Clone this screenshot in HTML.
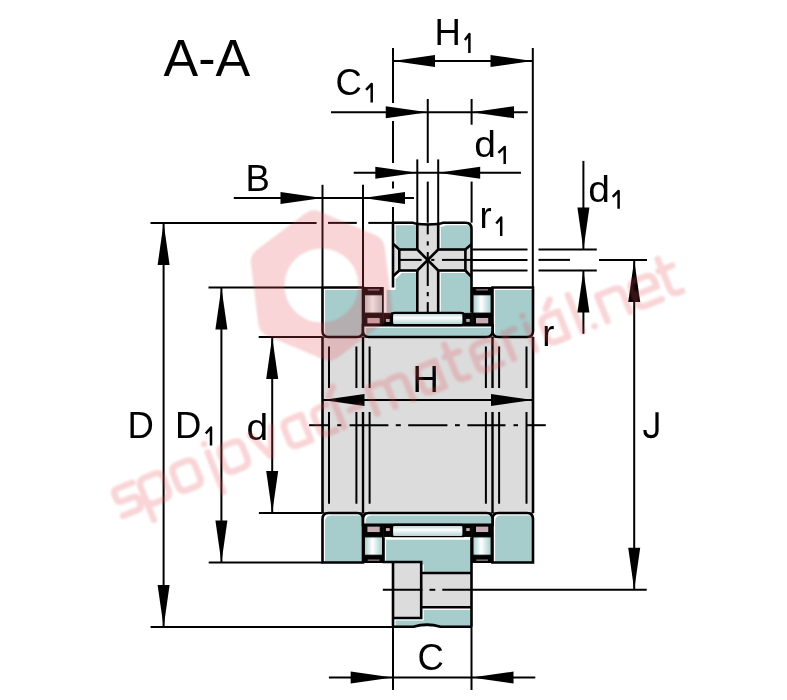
<!DOCTYPE html>
<html><head><meta charset="utf-8"><style>html,body{margin:0;padding:0;background:#fff;width:787px;height:700px;overflow:hidden}svg{display:block;filter:blur(0.3px)}</style></head>
<body><svg width="787" height="700" viewBox="0 0 787 700">
<defs>
<filter id="wmb" x="-10%" y="-10%" width="120%" height="120%"><feGaussianBlur stdDeviation="0.8"/></filter>
<clipPath id="c1"><path d="M322.5,287.5 L363,287.5 L363,331 Q363,337 357,337 L328.5,337 Q322.5,337 322.5,331 L322.5,287.5 Z"/></clipPath>
<clipPath id="c2"><path d="M492.5,287.5 L533,287.5 L533,331 Q533,337 527,337 L498.5,337 Q492.5,337 492.5,331 L492.5,287.5 Z"/></clipPath>
<clipPath id="c3"><path d="M328.5,513 L357,513 Q363,513 363,519 L363,562.5 L322.5,562.5 L322.5,519 Q322.5,513 328.5,513 Z"/></clipPath>
<clipPath id="c4"><path d="M498.5,513 L527,513 Q533,513 533,519 L533,562.5 L492.5,562.5 L492.5,519 Q492.5,513 498.5,513 Z"/></clipPath>
<clipPath id="c5"><path d="M363,325.2 L492.5,325.2 L492.5,331 Q492.5,337 486.5,337 L369,337 Q363,337 363,331 L363,325.2 Z"/></clipPath>
<clipPath id="c6"><path d="M369,513 L486.5,513 Q492.5,513 492.5,519 L492.5,524.8 L363,524.8 L363,519 Q363,513 369,513 Z"/></clipPath>
<clipPath id="c7"><path d="M393,222.7 L412.4,222.7 Q417.3,224.5 417.3,224.5 L417.3,249.5 L399.3,249.5 L393,243.6 Z"/></clipPath>
<clipPath id="c8"><path d="M438.2,224.5 Q441,224.5 443.5,222.7 L465.5,222.7 Q471.5,222.7 471.5,228.7 L471.5,244.2 L465.4,249.5 L438.2,249.5 Z"/></clipPath>
<clipPath id="c9"><path d="M393,276.3 L399.3,270.5 L417.3,270.5 L417.3,312.8 L384,312.8 L384,287.5 L393,287.5 Z"/></clipPath>
<clipPath id="c10"><path d="M438.2,270.5 L465.4,270.5 L471.5,276.8 L471.5,312.8 L438.2,312.8 Z"/></clipPath>
<clipPath id="c11"><path d="M383.5,537.2 L471.5,537.2 L471.5,573 L421.2,573 L421.2,562 L383.5,562 Z"/></clipPath>
<clipPath id="c12"><path d="M421.2,607.3 L471.5,607.3 L471.5,626.8 L393,626.8 L393,618 L421.2,618 Z"/></clipPath>
<linearGradient id="gv" x1="0" y1="0" x2="1" y2="0">
<stop offset="0" stop-color="#a6cccc"/><stop offset="0.45" stop-color="#ffffff"/><stop offset="1" stop-color="#a6cccc"/>
</linearGradient>
<linearGradient id="gh" x1="0" y1="0" x2="0" y2="1">
<stop offset="0" stop-color="#a6cccc"/><stop offset="0.4" stop-color="#ffffff"/><stop offset="1" stop-color="#a6cccc"/>
</linearGradient>
<linearGradient id="gh2" x1="0" y1="0" x2="0" y2="1">
<stop offset="0" stop-color="#a6cccc"/><stop offset="0.4" stop-color="#ffffff"/><stop offset="1" stop-color="#a6cccc"/>
</linearGradient>
</defs>
<rect width="787" height="700" fill="#fff"/>
<g stroke="#000" fill="#000">
<rect x="322.5" y="337" width="210.5" height="176" fill="#dcdcdc" />
<line x1="322.5" y1="337" x2="322.5" y2="513" stroke-width="2.6"/>
<line x1="533" y1="337" x2="533" y2="513" stroke-width="2.6"/>
<line x1="363" y1="337" x2="363" y2="388" stroke-width="2.4"/>
<line x1="363" y1="412" x2="363" y2="513" stroke-width="2.4"/>
<line x1="492.5" y1="337" x2="492.5" y2="388" stroke-width="2.4"/>
<line x1="492.5" y1="412" x2="492.5" y2="513" stroke-width="2.4"/>
<line x1="329" y1="346.5" x2="329" y2="388" stroke-width="2.0"/>
<line x1="329" y1="412" x2="329" y2="503.7" stroke-width="2.0"/>
<line x1="356.4" y1="346.5" x2="356.4" y2="388" stroke-width="2.0"/>
<line x1="356.4" y1="412" x2="356.4" y2="503.7" stroke-width="2.0"/>
<line x1="369.6" y1="346.5" x2="369.6" y2="388" stroke-width="2.0"/>
<line x1="369.6" y1="412" x2="369.6" y2="503.7" stroke-width="2.0"/>
<line x1="485.9" y1="346.5" x2="485.9" y2="388" stroke-width="2.0"/>
<line x1="485.9" y1="412" x2="485.9" y2="503.7" stroke-width="2.0"/>
<line x1="499.1" y1="346.5" x2="499.1" y2="388" stroke-width="2.0"/>
<line x1="499.1" y1="412" x2="499.1" y2="503.7" stroke-width="2.0"/>
<line x1="526.5" y1="346.5" x2="526.5" y2="388" stroke-width="2.0"/>
<line x1="526.5" y1="412" x2="526.5" y2="503.7" stroke-width="2.0"/>
<path d="M322.5,287.5 L363,287.5 L363,331 Q363,337 357,337 L328.5,337 Q322.5,337 322.5,331 L322.5,287.5 Z" fill="#fff" stroke="none"/>
<g clip-path="url(#c1)"><path d="M322.5,287.5 L363,287.5 L363,331 Q363,337 357,337 L328.5,337 Q322.5,337 322.5,331 L322.5,287.5 Z" fill="#a6cccc" stroke="none" transform="translate(2.6,2.6)"/></g>
<path d="M322.5,287.5 L363,287.5 L363,331 Q363,337 357,337 L328.5,337 Q322.5,337 322.5,331 L322.5,287.5 Z" fill="none" stroke="#000" stroke-width="2.6" />
<path d="M492.5,287.5 L533,287.5 L533,331 Q533,337 527,337 L498.5,337 Q492.5,337 492.5,331 L492.5,287.5 Z" fill="#fff" stroke="none"/>
<g clip-path="url(#c2)"><path d="M492.5,287.5 L533,287.5 L533,331 Q533,337 527,337 L498.5,337 Q492.5,337 492.5,331 L492.5,287.5 Z" fill="#a6cccc" stroke="none" transform="translate(2.6,2.6)"/></g>
<path d="M492.5,287.5 L533,287.5 L533,331 Q533,337 527,337 L498.5,337 Q492.5,337 492.5,331 L492.5,287.5 Z" fill="none" stroke="#000" stroke-width="2.6" />
<path d="M328.5,513 L357,513 Q363,513 363,519 L363,562.5 L322.5,562.5 L322.5,519 Q322.5,513 328.5,513 Z" fill="#fff" stroke="none"/>
<g clip-path="url(#c3)"><path d="M328.5,513 L357,513 Q363,513 363,519 L363,562.5 L322.5,562.5 L322.5,519 Q322.5,513 328.5,513 Z" fill="#a6cccc" stroke="none" transform="translate(2.6,2.6)"/></g>
<path d="M328.5,513 L357,513 Q363,513 363,519 L363,562.5 L322.5,562.5 L322.5,519 Q322.5,513 328.5,513 Z" fill="none" stroke="#000" stroke-width="2.6" />
<path d="M498.5,513 L527,513 Q533,513 533,519 L533,562.5 L492.5,562.5 L492.5,519 Q492.5,513 498.5,513 Z" fill="#fff" stroke="none"/>
<g clip-path="url(#c4)"><path d="M498.5,513 L527,513 Q533,513 533,519 L533,562.5 L492.5,562.5 L492.5,519 Q492.5,513 498.5,513 Z" fill="#a6cccc" stroke="none" transform="translate(2.6,2.6)"/></g>
<path d="M498.5,513 L527,513 Q533,513 533,519 L533,562.5 L492.5,562.5 L492.5,519 Q492.5,513 498.5,513 Z" fill="none" stroke="#000" stroke-width="2.6" />
<path d="M363,325.2 L492.5,325.2 L492.5,331 Q492.5,337 486.5,337 L369,337 Q363,337 363,331 L363,325.2 Z" fill="#fff" stroke="none"/>
<g clip-path="url(#c5)"><path d="M363,325.2 L492.5,325.2 L492.5,331 Q492.5,337 486.5,337 L369,337 Q363,337 363,331 L363,325.2 Z" fill="#a6cccc" stroke="none" transform="translate(2.6,2.6)"/></g>
<path d="M363,325.2 L492.5,325.2 L492.5,331 Q492.5,337 486.5,337 L369,337 Q363,337 363,331 L363,325.2 Z" fill="none" stroke="#000" stroke-width="2.6" />
<path d="M369,513 L486.5,513 Q492.5,513 492.5,519 L492.5,524.8 L363,524.8 L363,519 Q363,513 369,513 Z" fill="#fff" stroke="none"/>
<g clip-path="url(#c6)"><path d="M369,513 L486.5,513 Q492.5,513 492.5,519 L492.5,524.8 L363,524.8 L363,519 Q363,513 369,513 Z" fill="#a6cccc" stroke="none" transform="translate(2.6,2.6)"/></g>
<path d="M369,513 L486.5,513 Q492.5,513 492.5,519 L492.5,524.8 L363,524.8 L363,519 Q363,513 369,513 Z" fill="none" stroke="#000" stroke-width="2.6" />
<path d="M393,222.7 L412.4,222.7 Q417.3,224.5 417.3,224.5 L417.3,249.5 L399.3,249.5 L393,243.6 Z" fill="#fff" stroke="none"/>
<g clip-path="url(#c7)"><path d="M393,222.7 L412.4,222.7 Q417.3,224.5 417.3,224.5 L417.3,249.5 L399.3,249.5 L393,243.6 Z" fill="#a6cccc" stroke="none" transform="translate(2.6,2.6)"/></g>
<path d="M438.2,224.5 Q441,224.5 443.5,222.7 L465.5,222.7 Q471.5,222.7 471.5,228.7 L471.5,244.2 L465.4,249.5 L438.2,249.5 Z" fill="#fff" stroke="none"/>
<g clip-path="url(#c8)"><path d="M438.2,224.5 Q441,224.5 443.5,222.7 L465.5,222.7 Q471.5,222.7 471.5,228.7 L471.5,244.2 L465.4,249.5 L438.2,249.5 Z" fill="#a6cccc" stroke="none" transform="translate(2.6,2.6)"/></g>
<path d="M393,276.3 L399.3,270.5 L417.3,270.5 L417.3,312.8 L384,312.8 L384,287.5 L393,287.5 Z" fill="#fff" stroke="none"/>
<g clip-path="url(#c9)"><path d="M393,276.3 L399.3,270.5 L417.3,270.5 L417.3,312.8 L384,312.8 L384,287.5 L393,287.5 Z" fill="#a6cccc" stroke="none" transform="translate(2.6,2.6)"/></g>
<path d="M438.2,270.5 L465.4,270.5 L471.5,276.8 L471.5,312.8 L438.2,312.8 Z" fill="#fff" stroke="none"/>
<g clip-path="url(#c10)"><path d="M438.2,270.5 L465.4,270.5 L471.5,276.8 L471.5,312.8 L438.2,312.8 Z" fill="#a6cccc" stroke="none" transform="translate(2.6,2.6)"/></g>
<rect x="417.3" y="224.2" width="20.9" height="88.6" fill="#dcdcdc" />
<path d="M393,243.6 L399.3,249.5 L465.4,249.5 L471.5,244.2 L471.5,276.8 L465.4,270.5 L399.3,270.5 L393,276.3 Z" fill="#dcdcdc" stroke="none" stroke-width="2.6" />
<path d="M393,287.5 L393,222.7 L412.4,222.7 Q416,224.5 428,224.5 Q440,224.5 443.5,222.7 L465.5,222.7 Q471.5,222.7 471.5,228.7 L471.5,312.8" fill="none" stroke="#000" stroke-width="2.6" />
<line x1="417.3" y1="224.5" x2="417.3" y2="249.5" stroke-width="2.6"/>
<line x1="417.3" y1="270.5" x2="417.3" y2="312.8" stroke-width="2.6"/>
<line x1="438.2" y1="224.5" x2="438.2" y2="249.5" stroke-width="2.6"/>
<line x1="438.2" y1="270.5" x2="438.2" y2="312.8" stroke-width="2.6"/>
<line x1="399.3" y1="249.5" x2="417.3" y2="249.5" stroke-width="2.6"/>
<line x1="438.2" y1="249.5" x2="465.4" y2="249.5" stroke-width="2.6"/>
<line x1="399.3" y1="270.5" x2="417.3" y2="270.5" stroke-width="2.6"/>
<line x1="438.2" y1="270.5" x2="465.4" y2="270.5" stroke-width="2.6"/>
<line x1="399.3" y1="249.5" x2="399.3" y2="270.5" stroke-width="2.6"/>
<line x1="465.4" y1="249.5" x2="465.4" y2="270.5" stroke-width="2.6"/>
<path d="M393,243.6 L399.3,249.5 M393,276.3 L399.3,270.5 M471.5,244.2 L465.4,249.5 M471.5,276.8 L465.4,270.5" fill="none" stroke="#000" stroke-width="2.6" />
<path d="M417.3,249.5 L438.2,270.5 M438.2,249.5 L417.3,270.5" fill="none" stroke="#000" stroke-width="2.6" />
<line x1="427.75" y1="224.5" x2="427.75" y2="234.4" stroke-width="2.0"/>
<line x1="427.75" y1="241.3" x2="427.75" y2="245.5" stroke-width="2.0"/>
<line x1="427.75" y1="252" x2="427.75" y2="286" stroke-width="2.0"/>
<line x1="427.75" y1="292" x2="427.75" y2="296.2" stroke-width="2.0"/>
<line x1="427.75" y1="302.1" x2="427.75" y2="322.5" stroke-width="2.0"/>
<line x1="399.3" y1="259.9" x2="421.6" y2="259.9" stroke-width="2.0"/>
<line x1="431.2" y1="259.9" x2="434.4" y2="259.9" stroke-width="2.0"/>
<line x1="442" y1="259.9" x2="471.5" y2="259.9" stroke-width="2.0"/>
<rect x="391.5" y="312.8" width="72" height="12.4" fill="url(#gh)"/>
<rect x="391.5" y="524.8" width="72" height="12.4" fill="url(#gh2)"/>
<rect x="392" y="312.8" width="71.5" height="12.4" rx="2.5" fill="none" stroke="#000" stroke-width="2.2"/>
<rect x="392" y="524.8" width="71.5" height="12.4" rx="2.5" fill="none" stroke="#000" stroke-width="2.2"/>
<rect x="472.3" y="287.5" width="19.5" height="37.7" fill="#000" />
<rect x="473" y="294.8" width="18.1" height="18.3" fill="url(#gv)"/>
<rect x="475.8" y="288.9" width="12.8" height="2" fill="#c4aeb4" />
<rect x="475.5" y="317.4" width="13.3" height="6.5" fill="#c4aeb4" />
<rect x="473.8" y="316.5" width="0.8" height="8.7" fill="#fff" opacity="0.6"/>
<rect x="489.5" y="316.5" width="0.8" height="8.7" fill="#fff" opacity="0.6"/>
<rect x="363.7" y="287.5" width="19.5" height="37.7" fill="#000" />
<rect x="364.4" y="294.8" width="18.1" height="18.3" fill="url(#gv)"/>
<rect x="367.2" y="288.9" width="12.8" height="2" fill="#c4aeb4" />
<rect x="366.9" y="317.4" width="13.3" height="6.5" fill="#c4aeb4" />
<rect x="365.2" y="316.5" width="0.8" height="8.7" fill="#fff" opacity="0.6"/>
<rect x="380.9" y="316.5" width="0.8" height="8.7" fill="#fff" opacity="0.6"/>
<rect x="464.2" y="313.3" width="7.6" height="11.9" fill="#000" />
<rect x="465.8" y="318.4" width="4.4" height="4" fill="#c4aeb4" />
<rect x="383.8" y="313.3" width="8" height="11.9" fill="#000" />
<rect x="385.4" y="318.4" width="4.8" height="4" fill="#c4aeb4" />
<rect x="472.3" y="524.8" width="19.5" height="37.7" fill="#000" />
<rect x="473" y="536.9" width="18.1" height="18.3" fill="url(#gv)"/>
<rect x="475.8" y="559.1" width="12.8" height="2" fill="#c4aeb4" />
<rect x="475.5" y="526.1" width="13.3" height="6.5" fill="#c4aeb4" />
<rect x="473.8" y="524.8" width="0.8" height="8.7" fill="#fff" opacity="0.6"/>
<rect x="489.5" y="524.8" width="0.8" height="8.7" fill="#fff" opacity="0.6"/>
<rect x="363.7" y="524.8" width="19.5" height="37.7" fill="#000" />
<rect x="364.4" y="536.9" width="18.1" height="18.3" fill="url(#gv)"/>
<rect x="367.2" y="559.1" width="12.8" height="2" fill="#c4aeb4" />
<rect x="366.9" y="526.1" width="13.3" height="6.5" fill="#c4aeb4" />
<rect x="365.2" y="524.8" width="0.8" height="8.7" fill="#fff" opacity="0.6"/>
<rect x="380.9" y="524.8" width="0.8" height="8.7" fill="#fff" opacity="0.6"/>
<rect x="464.2" y="524.8" width="7.6" height="11.9" fill="#000" />
<rect x="465.8" y="527.6" width="4.4" height="4" fill="#c4aeb4" />
<rect x="383.8" y="524.8" width="8" height="11.9" fill="#000" />
<rect x="385.4" y="527.6" width="4.8" height="4" fill="#c4aeb4" />
<path d="M383.5,537.2 L471.5,537.2 L471.5,573 L421.2,573 L421.2,562 L383.5,562 Z" fill="#fff" stroke="none"/>
<g clip-path="url(#c11)"><path d="M383.5,537.2 L471.5,537.2 L471.5,573 L421.2,573 L421.2,562 L383.5,562 Z" fill="#a6cccc" stroke="none" transform="translate(2.6,2.6)"/></g>
<path d="M421.2,607.3 L471.5,607.3 L471.5,626.8 L393,626.8 L393,618 L421.2,618 Z" fill="#fff" stroke="none"/>
<g clip-path="url(#c12)"><path d="M421.2,607.3 L471.5,607.3 L471.5,626.8 L393,626.8 L393,618 L421.2,618 Z" fill="#a6cccc" stroke="none" transform="translate(2.6,2.6)"/></g>
<rect x="393" y="562" width="28.2" height="56" fill="#dcdcdc" />
<rect x="421.2" y="573" width="50.3" height="34.3" fill="#dcdcdc" />
<path d="M383.5,537.2 L383.5,562 L421.2,562 L421.2,618 L393,618" fill="none" stroke="#000" stroke-width="2.6" />
<path d="M421.2,573 L471.5,573 M421.2,607.3 L471.5,607.3" fill="none" stroke="#000" stroke-width="2.6" />
<path d="M471.5,537.2 L471.5,626.8" fill="none" stroke="#000" stroke-width="2.6" />
<path d="M393,562 L393,626.8" fill="none" stroke="#000" stroke-width="2.6" />
<path d="M393,626.8 L413.4,626.8 Q427,622.5 440.4,626.8 L471.5,626.8" fill="none" stroke="#000" stroke-width="2.6" />
<line x1="393" y1="61" x2="532.5" y2="61" stroke-width="2.0"/>
<polygon stroke="none" points="393,61 435,55 435,67"/>
<polygon stroke="none" points="532.5,61 490.5,55 490.5,67"/>
<line x1="393" y1="48" x2="393" y2="103" stroke-width="2.0"/>
<line x1="393" y1="121" x2="393" y2="163" stroke-width="2.0"/>
<line x1="393" y1="181.6" x2="393" y2="188.6" stroke-width="2.0"/>
<line x1="393" y1="207" x2="393" y2="222.7" stroke-width="2.0"/>
<line x1="532.8" y1="48" x2="532.8" y2="287.5" stroke-width="2.0"/>
<line x1="331" y1="112.2" x2="527.7" y2="112.2" stroke-width="2.0"/>
<polygon stroke="none" points="427.75,112.2 385.75,106.2 385.75,118.2"/>
<polygon stroke="none" points="472,112.2 514,106.2 514,118.2"/>
<line x1="427.75" y1="99" x2="427.75" y2="163" stroke-width="2.0"/>
<line x1="427.75" y1="181.6" x2="427.75" y2="222.7" stroke-width="2.0"/>
<line x1="471.6" y1="99" x2="471.6" y2="124.7" stroke-width="2.0"/>
<line x1="471.6" y1="181.6" x2="471.6" y2="222.7" stroke-width="2.0"/>
<line x1="353.7" y1="172.7" x2="521" y2="172.7" stroke-width="2.0"/>
<polygon stroke="none" points="417.3,172.7 375.3,166.7 375.3,178.7"/>
<polygon stroke="none" points="438.2,172.7 480.2,166.7 480.2,178.7"/>
<line x1="417.3" y1="159.4" x2="417.3" y2="224.5" stroke-width="2.0"/>
<line x1="438.2" y1="159.4" x2="438.2" y2="224.5" stroke-width="2.0"/>
<line x1="233.8" y1="198" x2="414" y2="198" stroke-width="2.0"/>
<polygon stroke="none" points="322.5,198 280.5,192 280.5,204"/>
<polygon stroke="none" points="363,198 405,192 405,204"/>
<line x1="322.5" y1="184.8" x2="322.5" y2="287.5" stroke-width="2.0"/>
<line x1="363" y1="184.8" x2="363" y2="287.5" stroke-width="2.0"/>
<line x1="150.5" y1="222.9" x2="316.6" y2="222.9" stroke-width="2.0"/>
<line x1="328" y1="222.9" x2="356.8" y2="222.9" stroke-width="2.0"/>
<line x1="368.3" y1="222.9" x2="393" y2="222.9" stroke-width="2.0"/>
<line x1="150.6" y1="627" x2="393" y2="627" stroke-width="2.0"/>
<line x1="163.6" y1="222.9" x2="163.6" y2="627" stroke-width="2.0"/>
<polygon stroke="none" points="163.6,222.9 157.6,264.9 169.6,264.9"/>
<polygon stroke="none" points="163.6,627 157.6,585 169.6,585"/>
<line x1="208.5" y1="287.5" x2="322.5" y2="287.5" stroke-width="2.0"/>
<line x1="208.7" y1="562.5" x2="322.5" y2="562.5" stroke-width="2.0"/>
<line x1="221.4" y1="287.5" x2="221.4" y2="562.5" stroke-width="2.0"/>
<polygon stroke="none" points="221.4,287.5 215.4,329.5 227.4,329.5"/>
<polygon stroke="none" points="221.4,562.5 215.4,520.5 227.4,520.5"/>
<line x1="258.7" y1="337" x2="322.5" y2="337" stroke-width="2.0"/>
<line x1="258.9" y1="513" x2="322.5" y2="513" stroke-width="2.0"/>
<line x1="272.2" y1="337" x2="272.2" y2="513" stroke-width="2.0"/>
<polygon stroke="none" points="272.2,337 266.2,379 278.2,379"/>
<polygon stroke="none" points="272.2,513 266.2,471 278.2,471"/>
<line x1="599" y1="259.9" x2="647" y2="259.9" stroke-width="2.0"/>
<line x1="382.8" y1="589.8" x2="422.4" y2="589.8" stroke-width="2.0"/>
<line x1="429.5" y1="589.8" x2="435.3" y2="589.8" stroke-width="2.0"/>
<line x1="442.3" y1="589.8" x2="646.7" y2="589.8" stroke-width="2.0"/>
<line x1="634.2" y1="259.9" x2="634.2" y2="589.8" stroke-width="2.0"/>
<polygon stroke="none" points="634.2,259.9 628.2,301.9 640.2,301.9"/>
<polygon stroke="none" points="634.2,589.8 628.2,547.8 640.2,547.8"/>
<line x1="583.4" y1="160.9" x2="583.4" y2="249.5" stroke-width="2.0"/>
<polygon stroke="none" points="583.4,249.5 577.4,207.5 589.4,207.5"/>
<line x1="583.4" y1="270.5" x2="583.4" y2="333.8" stroke-width="2.0"/>
<polygon stroke="none" points="583.4,270.5 577.4,312.5 589.4,312.5"/>
<line x1="471.5" y1="249.5" x2="527.5" y2="249.5" stroke-width="2.0"/>
<line x1="538.5" y1="249.5" x2="596.8" y2="249.5" stroke-width="2.0"/>
<line x1="471.5" y1="270.5" x2="527.5" y2="270.5" stroke-width="2.0"/>
<line x1="538.5" y1="270.5" x2="596.8" y2="270.5" stroke-width="2.0"/>
<line x1="471.5" y1="259.9" x2="527.5" y2="259.9" stroke-width="2.0"/>
<line x1="538.5" y1="259.9" x2="570" y2="259.9" stroke-width="2.0"/>
<line x1="322.5" y1="400" x2="533" y2="400" stroke-width="2.0"/>
<polygon stroke="none" points="322.5,400 364.5,394 364.5,406"/>
<polygon stroke="none" points="533,400 491,394 491,406"/>
<line x1="309.1" y1="425.2" x2="329.7" y2="425.2" stroke-width="2.0"/>
<line x1="337.2" y1="425.2" x2="341.3" y2="425.2" stroke-width="2.0"/>
<line x1="349.6" y1="425.2" x2="388.4" y2="425.2" stroke-width="2.0"/>
<line x1="395.8" y1="425.2" x2="400.8" y2="425.2" stroke-width="2.0"/>
<line x1="408.2" y1="425.2" x2="447.4" y2="425.2" stroke-width="2.0"/>
<line x1="455" y1="425.2" x2="459.8" y2="425.2" stroke-width="2.0"/>
<line x1="467.4" y1="425.2" x2="505.5" y2="425.2" stroke-width="2.0"/>
<line x1="513.5" y1="425.2" x2="518" y2="425.2" stroke-width="2.0"/>
<line x1="526.5" y1="425.2" x2="545.8" y2="425.2" stroke-width="2.0"/>
<line x1="328.9" y1="677.6" x2="535.3" y2="677.6" stroke-width="2.0"/>
<polygon stroke="none" points="392.7,677.6 350.7,671.6 350.7,683.6"/>
<polygon stroke="none" points="471.5,677.6 513.5,671.6 513.5,683.6"/>
<line x1="393" y1="626.8" x2="393" y2="690" stroke-width="2.0"/>
<line x1="471.5" y1="626.8" x2="471.5" y2="690" stroke-width="2.0"/>
</g>
<g font-family="Liberation Sans, sans-serif" fill="#000" opacity="0.999">
<text x="163.5" y="75.5" font-size="52">A-A</text>
<text x="434.5" y="44.6" font-size="36.5">H</text>
<path d="M469.4,52.9 L469.4,34.1 L464.9,40.1" fill="none" stroke="#000" stroke-width="2.5" stroke-linecap="butt" stroke-linejoin="round"/>
<text x="335.5" y="94.6" font-size="36.5">C</text>
<path d="M371.7,102.5 L371.7,83.9 L366.1,89.9" fill="none" stroke="#000" stroke-width="2.5" stroke-linecap="butt" stroke-linejoin="round"/>
<text x="0" y="0" font-size="36.5" transform="translate(474.2,156.6) scale(1.07,1)">d</text>
<path d="M504.7,163.9 L504.7,146.9 L498.4,152.9" fill="none" stroke="#000" stroke-width="2.5" stroke-linecap="butt" stroke-linejoin="round"/>
<text x="245.5" y="191" font-size="36.5">B</text>
<text x="479.5" y="228" font-size="36.5">r</text>
<path d="M501.2,236.1 L501.2,217.5 L496.3,223.5" fill="none" stroke="#000" stroke-width="2.5" stroke-linecap="butt" stroke-linejoin="round"/>
<text x="0" y="0" font-size="36.5" transform="translate(588.2,202) scale(1.07,1)">d</text>
<path d="M618.6,208.7 L618.6,190.9 L612.7,196.9" fill="none" stroke="#000" stroke-width="2.5" stroke-linecap="butt" stroke-linejoin="round"/>
<text x="127.5" y="437.8" font-size="36.5">D</text>
<text x="175" y="437.8" font-size="36.5">D</text>
<path d="M211,445.5 L211,427.5 L205.8,433.5" fill="none" stroke="#000" stroke-width="2.5" stroke-linecap="butt" stroke-linejoin="round"/>
<text x="0" y="0" font-size="36.5" transform="translate(246.6,439.5) scale(1.07,1)">d</text>
<text x="412.6" y="392.4" font-size="36.5">H</text>
<text x="542.3" y="345.8" font-size="36.5">r</text>
<path d="M657,412.3 L657,430.5 C657,435.5 654.5,436.6 651,436.6 C647.2,436.6 644.9,434.8 644.9,430" fill="none" stroke="#000" stroke-width="3.2"/>
<text x="417.5" y="669.5" font-size="36.5">C</text>
</g>
<g fill="#e45058" opacity="0.24" font-family="Liberation Sans, sans-serif" filter="url(#wmb)">
<path fill-rule="evenodd" d="M314.13,225.45 L369.82,249.09 L377.19,309.14 L328.87,345.55 L273.18,321.91 L265.81,261.86 Z M373.5,285.5 A52,52 0 1,0 269.5,285.5 A52,52 0 1,0 373.5,285.5 Z" stroke="#e45058" stroke-width="30" stroke-linejoin="round"/>
<g transform="translate(116,520) rotate(-21.9)" fill="none" stroke="#e45058" stroke-width="6.4" stroke-linejoin="round" stroke-linecap="round"><path transform="translate(5,0)" d="M23.8,-28.6 L8.2,-28.6 Q3.2,-28.6 3.2,-23.6 L3.2,-19.9 Q3.2,-14.9 8.2,-14.9 L18.8,-14.9 Q23.8,-14.9 23.8,-9.9 L23.8,-6.2 Q23.8,-1.2 18.8,-1.2 L3.2,-1.2"/>
<path transform="translate(32,0)" d="M10.7,-28.6 L20.3,-28.6 Q27.8,-28.6 27.8,-21.1 L27.8,-8.7 Q27.8,-1.2 20.3,-1.2 L10.7,-1.2 Q3.2,-1.2 3.2,-8.7 L3.2,-21.1 Q3.2,-28.6 10.7,-28.6 Z M3.2,-21.1 L3.2,14"/>
<path transform="translate(67,0)" d="M10.7,-28.6 L19.3,-28.6 Q26.8,-28.6 26.8,-21.1 L26.8,-8.7 Q26.8,-1.2 19.3,-1.2 L10.7,-1.2 Q3.2,-1.2 3.2,-8.7 L3.2,-21.1 Q3.2,-28.6 10.7,-28.6 Z"/>
<path transform="translate(107,0)" d="M3.2,-28.6 L3.2,14 M3.1900000000000004,-37.6 L3.21,-37.6"/>
<path transform="translate(118,0)" d="M10.7,-28.6 L19.3,-28.6 Q26.8,-28.6 26.8,-21.1 L26.8,-8.7 Q26.8,-1.2 19.3,-1.2 L10.7,-1.2 Q3.2,-1.2 3.2,-8.7 L3.2,-21.1 Q3.2,-28.6 10.7,-28.6 Z"/>
<path transform="translate(153,0)" d="M3.2,-28.6 L14.5,-1.2 L25.8,-28.6"/>
<path transform="translate(187,0)" d="M23.8,-28.6 L10.7,-28.6 Q3.2,-28.6 3.2,-21.1 L3.2,-8.7 Q3.2,-1.2 10.7,-1.2 L23.8,-1.2 M23.8,-28.6 L23.8,-1.2"/>
<path transform="translate(219,0)" d="M18.8,-28.6 L10.7,-28.6 Q3.2,-28.6 3.2,-21.1 L3.2,-8.7 Q3.2,-1.2 10.7,-1.2 L18.8,-1.2"/>
<path transform="translate(243,0)" d="M3.2,-28.6 L3.2,-1.2 M0.7000000000000002,-35.6 L7.7,-42.6"/>
<path transform="translate(255,0)" d="M3.2,-14.9 L13.8,-14.9"/>
<path transform="translate(279,0)" d="M3.2,-1.2 L3.2,-28.6 L15.0,-28.6 Q22.5,-28.6 22.5,-21.1 L22.5,-1.2 M22.5,-21.1 Q22.5,-28.6 30.0,-28.6 L34.3,-28.6 Q41.8,-28.6 41.8,-21.1 L41.8,-1.2"/>
<path transform="translate(331,0)" d="M23.8,-28.6 L10.7,-28.6 Q3.2,-28.6 3.2,-21.1 L3.2,-8.7 Q3.2,-1.2 10.7,-1.2 L23.8,-1.2 M23.8,-28.6 L23.8,-1.2"/>
<path transform="translate(364,0)" d="M6,-40 L6,-8.7 Q6,-1.2 13.5,-1.2 L16.8,-1.2 M2.2,-28.6 L16.8,-28.6"/>
<path transform="translate(390,0)" d="M3.2,-14.9 L26.8,-14.9 L26.8,-21.1 Q26.8,-28.6 19.3,-28.6 L10.7,-28.6 Q3.2,-28.6 3.2,-21.1 L3.2,-8.7 Q3.2,-1.2 10.7,-1.2 L26.8,-1.2"/>
<path transform="translate(426,0)" d="M3.2,-1.2 L3.2,-28.6 M3.2,-21.1 Q3.2,-28.6 10.7,-28.6 L14.8,-28.6"/>
<path transform="translate(450,0)" d="M3.2,-28.6 L3.2,-1.2 M3.1900000000000004,-37.6 L3.21,-37.6"/>
<path transform="translate(465,0)" d="M22.8,-28.6 L10.7,-28.6 Q3.2,-28.6 3.2,-21.1 L3.2,-8.7 Q3.2,-1.2 10.7,-1.2 L22.8,-1.2 M22.8,-28.6 L22.8,-1.2 M12.5,-35.6 L19.5,-42.6"/>
<path transform="translate(500,0)" d="M3.2,-40 L3.2,-1.2"/>
<path transform="translate(513,0)" d="M3.1900000000000004,-1.2 L3.21,-1.2"/>
<path transform="translate(527,0)" d="M3.2,-1.2 L3.2,-28.6 L20.3,-28.6 Q27.8,-28.6 27.8,-21.1 L27.8,-1.2"/>
<path transform="translate(561,0)" d="M3.2,-14.9 L27.8,-14.9 L27.8,-21.1 Q27.8,-28.6 20.3,-28.6 L10.7,-28.6 Q3.2,-28.6 3.2,-21.1 L3.2,-8.7 Q3.2,-1.2 10.7,-1.2 L27.8,-1.2"/>
<path transform="translate(594,0)" d="M6,-40 L6,-8.7 Q6,-1.2 13.5,-1.2 L16.8,-1.2 M2.2,-28.6 L16.8,-28.6"/></g>
</g>
</svg></body></html>
